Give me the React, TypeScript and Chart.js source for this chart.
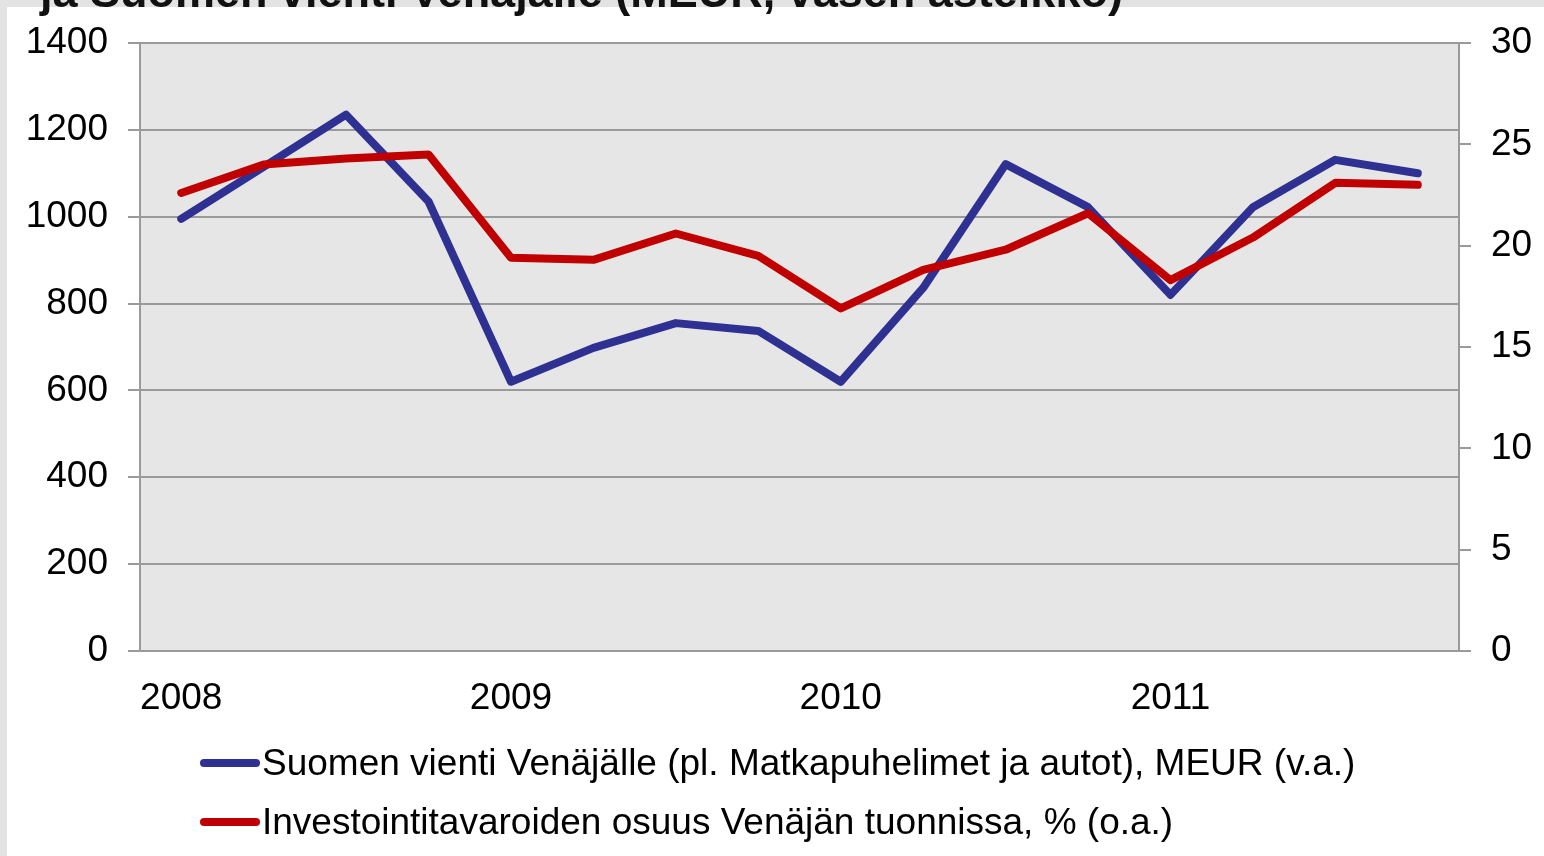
import React, { useEffect, useRef } from "react";
import { Chart, registerables } from "chart.js";

Chart.register(...registerables);

const titleText = "ja Suomen vienti Venäjälle (MEUR, vasen asteikko)";
const quarterLabels = ["2008", "", "", "", "2009", "", "", "", "2010", "", "", "", "2011", "", "", ""];
const exportsMEUR = [995, 1115, 1235, 1035, 620, 698, 755, 737, 620, 836, 1121, 1022, 820, 1022, 1131, 1100];
const investShare = [22.6, 24.0, 24.3, 24.5, 19.4, 19.3, 20.6, 19.5, 16.9, 18.8, 19.8, 21.6, 18.3, 20.4, 23.1, 23.0];
const seriesNames = [
  "Suomen vienti Venäjälle (pl. Matkapuhelimet ja autot), MEUR (v.a.)",
  "Investointitavaroiden osuus Venäjän tuonnissa, % (o.a.)",
];
const seriesColors = ["#2E3192", "#C00000"];
const leftAxis = { min: 0, max: 1400, step: 200 };
const rightAxis = { min: 0, max: 30, step: 5 };

const FONT = "'Liberation Sans', Arial, sans-serif";

const plotBg = {
  id: "plotBg",
  beforeDraw(chart: any) {
    const { ctx, chartArea } = chart;
    ctx.save();
    ctx.fillStyle = "#e6e6e6";
    ctx.fillRect(chartArea.left, chartArea.top, chartArea.right - chartArea.left, chartArea.bottom - chartArea.top);
    ctx.restore();
  },
};

const plain = (v: any) => String(v);

export default function App() {
  const canvasRef = useRef<HTMLCanvasElement | null>(null);

  useEffect(() => {
    if (!canvasRef.current) return;
    const chart = new Chart(canvasRef.current, {
      type: "line",
      data: {
        labels: quarterLabels,
        datasets: [
          {
            label: seriesNames[0],
            data: exportsMEUR,
            borderColor: seriesColors[0],
            backgroundColor: seriesColors[0],
            borderWidth: 8,
            pointRadius: 0,
            tension: 0,
            borderCapStyle: "round",
            borderJoinStyle: "round",
            yAxisID: "y",
            order: 1,
          },
          {
            label: seriesNames[1],
            data: investShare,
            borderColor: seriesColors[1],
            backgroundColor: seriesColors[1],
            borderWidth: 8,
            pointRadius: 0,
            tension: 0,
            borderCapStyle: "round",
            borderJoinStyle: "round",
            yAxisID: "y1",
            order: 0,
          },
        ],
      },
      options: {
        animation: false,
        responsive: false,
        maintainAspectRatio: false,
        layout: { padding: { top: 43, bottom: 125, left: 0, right: 0 } },
        plugins: {
          legend: { display: false },
          tooltip: { enabled: false },
          title: { display: false },
        },
        scales: {
          x: {
            offset: true,
            grid: { display: false, drawTicks: false },
            border: { display: false },
            ticks: {
              autoSkip: false,
              maxRotation: 0,
              padding: 26,
              color: "#000",
              font: { family: FONT, size: 37 },
            },
            afterFit(scale: any) {
              scale.height = 80;
            },
          },
          y: {
            position: "left",
            min: leftAxis.min,
            max: leftAxis.max,
            grid: { color: "#9a9a9a", lineWidth: 2, drawTicks: true, tickLength: 12 },
            border: { display: true, color: "#9a9a9a", width: 2 },
            ticks: {
              stepSize: leftAxis.step,
              padding: 20,
              color: "#000",
              font: { family: FONT, size: 37 },
              callback: plain,
            },
            afterFit(scale: any) {
              scale.width = 140;
            },
          },
          y1: {
            position: "right",
            min: rightAxis.min,
            max: rightAxis.max,
            grid: { drawOnChartArea: false, color: "#9a9a9a", lineWidth: 2, drawTicks: true, tickLength: 12 },
            border: { display: true, color: "#9a9a9a", width: 2 },
            ticks: {
              stepSize: rightAxis.step,
              padding: 20,
              color: "#000",
              font: { family: FONT, size: 37 },
              callback: plain,
            },
            afterFit(scale: any) {
              scale.width = 85;
            },
          },
        },
      },
      plugins: [plotBg],
    });
    return () => chart.destroy();
  }, []);

  return (
    <div style={{ position: "fixed", left: 0, top: 0, width: 1544, height: 856, background: "#e3e3e3", overflow: "hidden" }}>
      <div style={{ position: "absolute", left: 7, top: 7, right: 0, bottom: 0, background: "#ffffff" }} />
      <canvas ref={canvasRef} width={1544} height={856} style={{ position: "absolute", left: 0, top: 0, width: 1544, height: 856 }} />
      <div
        style={{
          position: "absolute",
          left: 40,
          top: -35,
          fontFamily: FONT,
          fontWeight: "bold",
          fontSize: 45,
          lineHeight: "54px",
          color: "#111",
          whiteSpace: "nowrap",
        }}
      >
        {titleText}
      </div>
      {seriesNames.map((name, i) => (
        <div
          key={name}
          style={{
            position: "absolute",
            left: 200,
            top: (i === 0 ? 763 : 822) - 22,
            height: 44,
            display: "flex",
            alignItems: "center",
            fontFamily: FONT,
            fontSize: 37,
            color: "#000",
            whiteSpace: "nowrap",
          }}
        >
          <span style={{ display: "inline-block", width: 60, height: 8, borderRadius: 4, background: seriesColors[i], marginRight: 2 }} />
          <span>{name}</span>
        </div>
      ))}
    </div>
  );
}
